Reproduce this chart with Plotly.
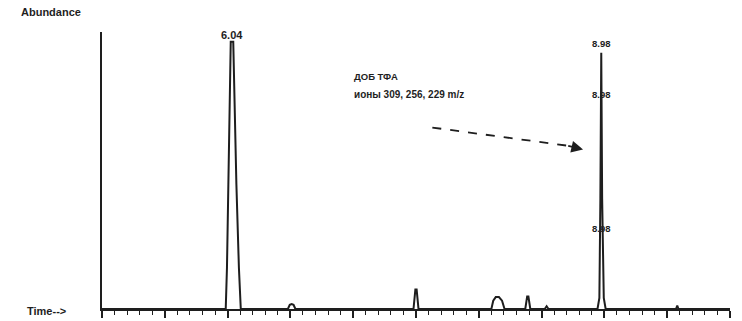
import plotly.graph_objects as go

# Retention time (min) and abundance (% of full scale)
time_min = [5.00, 5.985, 5.995, 6.005, 6.015, 6.025, 6.045, 6.055, 6.070, 6.090, 6.105,
            6.480, 6.495, 6.510, 6.525, 6.540,
            7.480, 7.495, 7.505, 7.520,
            8.100, 8.115, 8.135, 8.160, 8.185, 8.205,
            8.370, 8.385, 8.395, 8.410,
            8.525, 8.540, 8.555,
            8.945, 8.960, 8.968, 8.975, 8.982, 8.995, 9.010,
            9.570, 9.580, 9.590, 10.00]
abundance = [0, 0, 15, 45, 75, 96.5, 96.5, 75, 45, 15, 0,
             0, 1.5, 1.8, 1.5, 0,
             0, 7.0, 7.0, 0,
             0, 3.0, 4.3, 4.3, 3.0, 0,
             0, 4.5, 4.5, 0,
             0, 1.0, 0,
             0, 4, 40, 92.5, 40, 4, 0,
             0, 1.2, 0, 0]

peak_labels = ["6.04", "8.98", "8.98", "8.98"]
peak_label_x = [6.035, 8.975, 8.975, 8.975]
peak_label_y = [98.8, 95.8, 77.3, 29.2]
peak_label_size = [11, 9.5, 9.5, 9.5]

note_lines = ["ДОБ ТФА", "ионы 309, 256, 229 m/z"]

ink = "#1e1e1e"
fam = "Liberation Sans, Arial"

fig = go.Figure()
fig.add_trace(go.Scatter(x=time_min, y=abundance, mode="lines",
                         line=dict(color=ink, width=2), hoverinfo="skip"))

for t, xx, yy, sz in zip(peak_labels, peak_label_x, peak_label_y, peak_label_size):
    fig.add_annotation(x=xx, y=yy, text="<b>" + t + "</b>", showarrow=False,
                       font=dict(family=fam, size=sz, color=ink),
                       xanchor="center", yanchor="middle")

fig.add_annotation(x=6.99, y=84.0, text="<b>" + note_lines[0] + "</b>", showarrow=False,
                   font=dict(family=fam, size=9.5, color=ink), xanchor="left", yanchor="middle")
fig.add_annotation(x=6.99, y=77.5, text="<b>" + note_lines[1] + "</b>", showarrow=False,
                   font=dict(family=fam, size=10, color=ink), xanchor="left", yanchor="middle")

# dashed arrow
fig.add_shape(type="line", x0=7.63, y0=65.5, x1=8.70, y1=59.0,
              line=dict(color=ink, width=1.8, dash="dash"))
fig.add_annotation(x=8.83, y=57.6, ax=8.70, ay=59.0, axref="x", ayref="y",
                   text="", showarrow=True, arrowhead=2, arrowsize=1.3,
                   arrowwidth=1.8, arrowcolor=ink)

fig.add_annotation(xref="paper", yref="paper", x=-0.081, y=1.072, text="<b>Abundance</b>",
                   showarrow=False, font=dict(family=fam, size=11, color=ink),
                   xanchor="center", yanchor="middle")
fig.add_annotation(xref="paper", yref="paper", x=-0.088, y=-0.008, text="<b>Time--></b>",
                   showarrow=False, font=dict(family=fam, size=11, color=ink),
                   xanchor="center", yanchor="middle")

fig.update_layout(
    width=742, height=321,
    margin=dict(l=102, r=12, t=32, b=12, autoexpand=False),
    paper_bgcolor="white", plot_bgcolor="white",
    showlegend=False,
    xaxis=dict(range=[5.0, 10.0], showgrid=False, zeroline=False, automargin=False,
               showline=True, linecolor=ink, linewidth=2,
               ticks="outside", tickcolor=ink, ticklen=7, tickwidth=1.5,
               tick0=5.0, dtick=0.5, showticklabels=False,
               minor=dict(ticks="outside", dtick=0.1, ticklen=4,
                          tickcolor=ink, tickwidth=1.3)),
    yaxis=dict(range=[0, 100], showgrid=False, zeroline=False, automargin=False,
               showline=True, linecolor=ink, linewidth=2,
               ticks="", showticklabels=False),
)

fig.write_html("out.html", config={"displayModeBar": False},
               post_script="document.body.style.margin='0';")
